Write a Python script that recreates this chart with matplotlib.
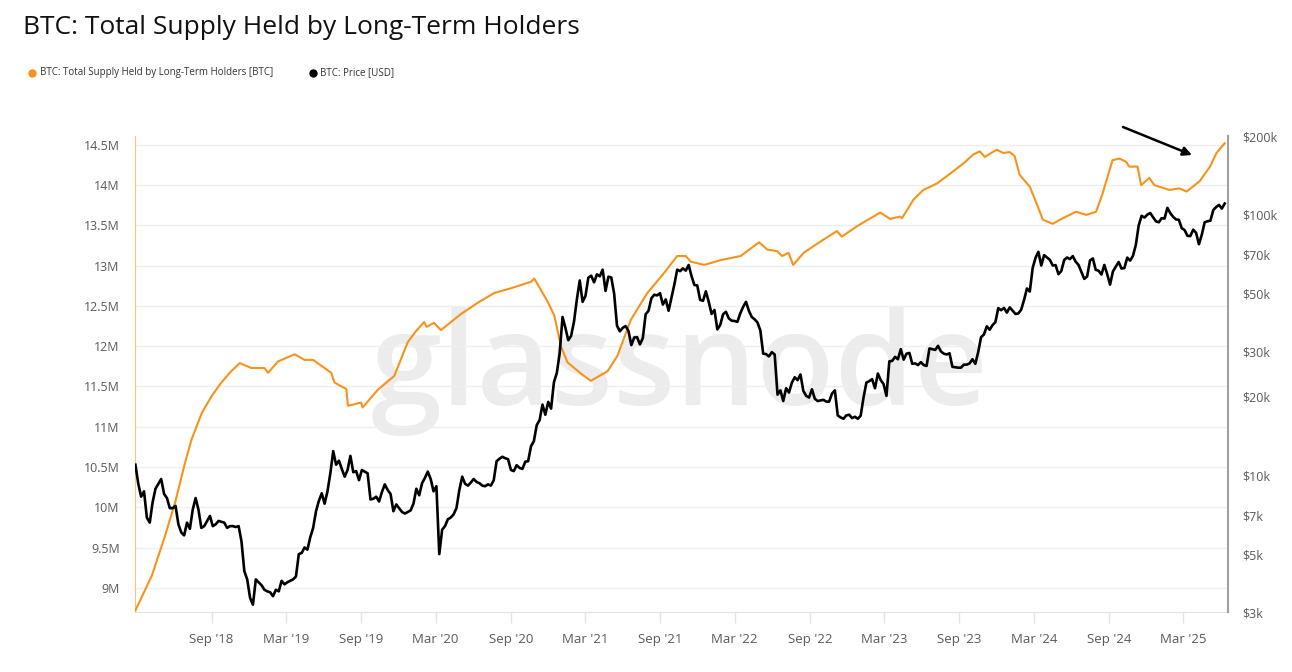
import numpy as np
import pandas as pd
import matplotlib
matplotlib.use("Agg")
import matplotlib.pyplot as plt
import matplotlib.dates as mdates
from matplotlib.lines import Line2D

# BTC price [USD], weekly closes starting 2018-02-27
price_2018 = [11000, 9300, 8300, 8700, 6900, 6600, 7900, 8900, 9300, 9700, 8500, 8200, 7500,
              7500, 7650, 6500, 6050, 5900, 6600, 6250, 7400, 8200, 7400, 6300, 6400, 6700,
              7000, 6400, 6500, 6700, 6650, 6600, 6300, 6400, 6400, 6350, 6400, 5600, 4300,
              4000, 3400, 3200, 4000, 3900]
price_2019 = [3800, 3650, 3600, 3570, 3450, 3650, 3600, 3950, 3830, 3900, 3950, 4000, 4100,
              5000, 5050, 5300, 5200, 5800, 6300, 7300, 8000, 8550, 7800, 8700, 10200, 12400,
              11000, 11400, 10600, 9900, 10500, 11900, 10300, 10400, 9600, 10500, 10350, 10200,
              8100, 8150, 8300, 7950, 8650, 9250, 8800, 8500, 7300, 7750, 7500, 7250, 7150, 7250]
price_2020 = [7350, 7800, 8900, 8400, 9350, 9800, 10350, 9700, 8700, 9100, 5000, 6200, 6400,
              6800, 6900, 7100, 7500, 8800, 9900, 9300, 9150, 9400, 9700, 9450, 9350, 9150,
              9100, 9250, 9150, 9600, 11350, 11600, 11800, 11650, 11550, 10500, 10400, 10950,
              10700, 10600, 11300, 11350, 12950, 13550, 15600, 16300, 18700, 17100, 19150,
              18050, 22800, 24700]
price_2021 = [29400, 40500, 36800, 33000, 34300, 38900, 47300, 55900, 46300, 48800, 57300,
              58300, 55000, 59000, 58000, 61500, 51000, 57800, 57400, 49800, 37500, 35700,
              36800, 37400, 35800, 31600, 33800, 33900, 31800, 33600, 41500, 42800, 47800,
              49300, 49000, 50000, 45200, 47300, 42800, 48100, 53900, 61500, 60700, 62200,
              61000, 64100, 58100, 53700, 53500, 47100, 46700, 50800, 46300]
price_2022 = [41600, 43100, 36300, 37700, 41500, 42400, 40000, 39200, 39100, 38800, 41800,
              44300, 46300, 42800, 40500, 39700, 38600, 36000, 29300, 29200, 28600, 29700,
              29100, 20400, 21200, 19300, 21600, 20800, 22700, 23800, 23200, 24400, 21100,
              20200, 19900, 21400, 19700, 19300, 19400, 19500, 19200, 19200, 20600, 21200,
              17000, 16700, 16500, 17000, 17100, 16600, 16800, 16500]
price_2023 = [16950, 19900, 22700, 23000, 23400, 21600, 24600, 23200, 22400, 20200, 27400,
              27500, 28500, 27900, 30500, 27800, 29300, 29500, 26800, 26900, 26500, 27200,
              26500, 26300, 30700, 30500, 30300, 31400, 29900, 29300, 29100, 29400, 26100,
              26000, 25900, 25900, 26600, 26600, 26900, 27900, 26800, 29700, 33900, 34700,
              37300, 36200, 37700, 38700, 43800, 43000, 43900, 42100]
price_2024 = [44100, 42800, 41600, 41800, 43200, 47100, 52100, 50700, 62400, 68300, 72000,
              63800, 69900, 68500, 67100, 63800, 64000, 59100, 60800, 67000, 68500, 67500,
              69300, 66000, 64100, 60300, 56700, 57900, 66700, 67900, 61400, 60900, 58900,
              64100, 59100, 53900, 60500, 63200, 65800, 62100, 62400, 68400, 66600, 69500,
              76600, 91000, 98900, 97400, 99900, 101400, 97800, 94200]
price_2025 = [93400, 96900, 96500, 106100, 101300, 98000, 95800, 95500, 88700, 87200, 82900,
              82700, 87500, 85200, 77000, 83700, 93400, 94300, 94700, 104000, 106800, 108900,
              105400, 110200]

# total supply held by long-term holders [millions of BTC]
lth_dates = ["2018-02-27", "2018-04-08", "2018-05-10", "2018-06-04", "2018-06-28", "2018-07-14",
             "2018-08-08", "2018-09-01", "2018-09-25", "2018-10-19", "2018-11-09", "2018-12-07",
             "2019-01-08", "2019-01-17", "2019-02-10", "2019-03-23", "2019-04-16", "2019-05-07",
             "2019-06-20", "2019-06-28", "2019-07-15", "2019-07-27", "2019-07-31", "2019-09-01",
             "2019-09-05", "2019-10-12", "2019-11-21", "2019-12-24", "2020-01-12",
             "2020-02-02", "2020-02-08", "2020-02-26", "2020-03-14", "2020-05-02", "2020-06-12",
             "2020-07-22", "2020-09-01", "2020-10-20", "2020-10-28", "2020-11-30", "2020-12-16",
             "2021-01-01", "2021-01-17", "2021-02-19", "2021-03-15", "2021-04-25", "2021-05-19",
             "2021-06-21", "2021-07-31", "2021-09-10", "2021-10-12", "2021-11-02", "2021-11-14",
             "2021-12-17", "2022-01-27", "2022-03-16", "2022-04-30", "2022-05-20", "2022-06-13",
             "2022-06-25", "2022-07-11", "2022-07-22", "2022-08-17", "2022-09-27", "2022-11-06",
             "2022-11-18", "2022-12-25", "2023-02-20", "2023-03-16", "2023-04-09", "2023-04-14",
             "2023-05-12", "2023-06-05", "2023-07-08", "2023-08-09", "2023-09-11", "2023-10-05",
             "2023-10-21", "2023-11-02", "2023-12-01", "2023-12-17", "2024-01-02", "2024-01-14",
             "2024-01-26", "2024-02-20", "2024-03-07", "2024-03-23", "2024-04-16", "2024-05-11",
             "2024-06-12", "2024-07-07", "2024-07-31", "2024-08-16", "2024-09-09", "2024-09-26",
             "2024-10-12", "2024-10-20", "2024-11-09", "2024-11-18", "2024-12-08", "2024-12-20",
             "2025-01-26", "2025-02-19", "2025-03-09", "2025-04-10", "2025-05-05", "2025-05-21",
             "2025-06-10"]
lth_supply = [8.72, 9.15, 9.64, 10.06, 10.55, 10.84,
              11.17, 11.38, 11.55, 11.69, 11.79, 11.73,
              11.73, 11.67, 11.81, 11.90, 11.83, 11.83,
              11.67, 11.55, 11.50, 11.47, 11.26, 11.30,
              11.24, 11.46, 11.63, 12.05, 12.18,
              12.30, 12.24, 12.29, 12.20, 12.40, 12.54,
              12.66, 12.72, 12.80, 12.84, 12.55, 12.38,
              12.00, 11.80, 11.66, 11.57, 11.69, 11.88,
              12.33, 12.66, 12.91, 13.12, 13.12, 13.05,
              13.01, 13.07, 13.12, 13.29, 13.20, 13.18,
              13.12, 13.16, 13.01, 13.16, 13.30, 13.43,
              13.36, 13.49, 13.66, 13.58, 13.61, 13.59,
              13.82, 13.94, 14.02, 14.14, 14.27, 14.38,
              14.42, 14.35, 14.44, 14.40, 14.41, 14.36,
              14.13, 13.98, 13.78, 13.57, 13.52, 13.59,
              13.67, 13.63, 13.67, 13.90, 14.31, 14.33,
              14.29, 14.23, 14.23, 14.00, 14.09, 14.00,
              13.94, 13.96, 13.92, 14.05, 14.23, 14.40,
              14.52]

left_ticks = [9, 9.5, 10, 10.5, 11, 11.5, 12, 12.5, 13, 13.5, 14, 14.5]
right_ticks = [3000, 5000, 7000, 10000, 20000, 30000, 50000, 70000, 100000, 200000]
month_ticks = ["2018-09-01", "2019-03-01", "2019-09-01", "2020-03-01", "2020-09-01",
               "2021-03-01", "2021-09-01", "2022-03-01", "2022-09-01", "2023-03-01",
               "2023-09-01", "2024-03-01", "2024-09-01", "2025-03-01"]

ORANGE = "#f7931a"
GRAY = "#5a5a5a"
plt.rcParams["font.family"] = ["Open Sans", "DejaVu Sans"]

price = price_2018 + price_2019 + price_2020 + price_2021 + price_2022 + price_2023 + price_2024 + price_2025
price_dates = pd.date_range("2018-02-27", periods=len(price), freq="7D")

W, H = 1292, 672
fig = plt.figure(figsize=(W / 100, H / 100), dpi=100)
ax = fig.add_axes([135 / W, 1 - 612 / H, (1228 - 135) / W, (612 - 136) / H])

ax.plot(pd.to_datetime(lth_dates), lth_supply, color=ORANGE, lw=1.5, zorder=3)
ax.set_ylim(8.70, 14.61)
ax.set_yticks(left_ticks)
ax.set_yticklabels([f"{v:g}M" for v in left_ticks])
ax.set_xlim(pd.Timestamp("2018-02-26"), pd.Timestamp("2025-06-18"))
ax.set_xticks(pd.to_datetime(month_ticks))
ax.xaxis.set_major_formatter(mdates.DateFormatter("%b '%y"))
ax.yaxis.grid(True, color="#efefef", lw=1)
ax.set_axisbelow(True)
ax.tick_params(axis="y", length=0, pad=11, labelcolor=GRAY, labelsize=9)
ax.tick_params(axis="x", length=8, width=1, color="#e3e3e3", pad=7, labelcolor=GRAY, labelsize=9.5)
ax.spines["top"].set_visible(False)
ax.spines["right"].set_visible(False)
ax.spines["left"].set_color(ORANGE)
ax.spines["left"].set_alpha(0.55)
ax.spines["bottom"].set_color("#e3e3e3")

ax.text(680 / W, 1 - 405 / H, "glassnode", transform=fig.transFigure, ha="center",
        va="baseline", fontsize=92, fontweight="semibold", color="#ececec", zorder=0.1,
        family="Open Sans")

ax2 = ax.twinx()
ax2.plot(price_dates, price, color="black", lw=1.9, zorder=3)
ax2.set_yscale("log")
ax2.set_ylim(3000, 200000)
ax2.set_yticks(right_ticks)
ax2.set_yticklabels([f"${v // 1000}k" for v in right_ticks])
ax2.minorticks_off()
ax2.tick_params(axis="y", length=0, pad=10, labelcolor=GRAY, labelsize=9)
for s in ["top", "left", "bottom"]:
    ax2.spines[s].set_visible(False)
ax2.spines["right"].set_color("#a0a0a0")
ax2.spines["right"].set_linewidth(1.5)

# title and legend
fig.text(23 / W, 1 - 27 / H, "BTC: Total Supply Held by Long-Term Holders", fontsize=19,
         va="center", ha="left", color="#111111")
fig.add_artist(Line2D([32 / W], [1 - 73 / H], marker="o", ms=5, color=ORANGE, lw=0,
                      transform=fig.transFigure))
fig.text(40 / W, 1 - 73 / H, "BTC: Total Supply Held by Long-Term Holders [BTC]",
         fontsize=7.05, va="center", ha="left", color="#333333")
fig.add_artist(Line2D([313 / W], [1 - 73 / H], marker="o", ms=5, color="black", lw=0,
                      transform=fig.transFigure))
fig.text(320 / W, 1 - 73 / H, "BTC: Price [USD]", fontsize=7.05, va="center", ha="left",
         color="#333333")

ax2.annotate("", xy=(1192 / W, 1 - 155 / H), xytext=(1123 / W, 1 - 127 / H),
             xycoords="figure fraction", textcoords="figure fraction",
             arrowprops=dict(arrowstyle="-|>", color="black", lw=1.8, mutation_scale=13,
                             shrinkA=0, shrinkB=0), annotation_clip=False)

fig.savefig("out.png", dpi=100, facecolor="white")
